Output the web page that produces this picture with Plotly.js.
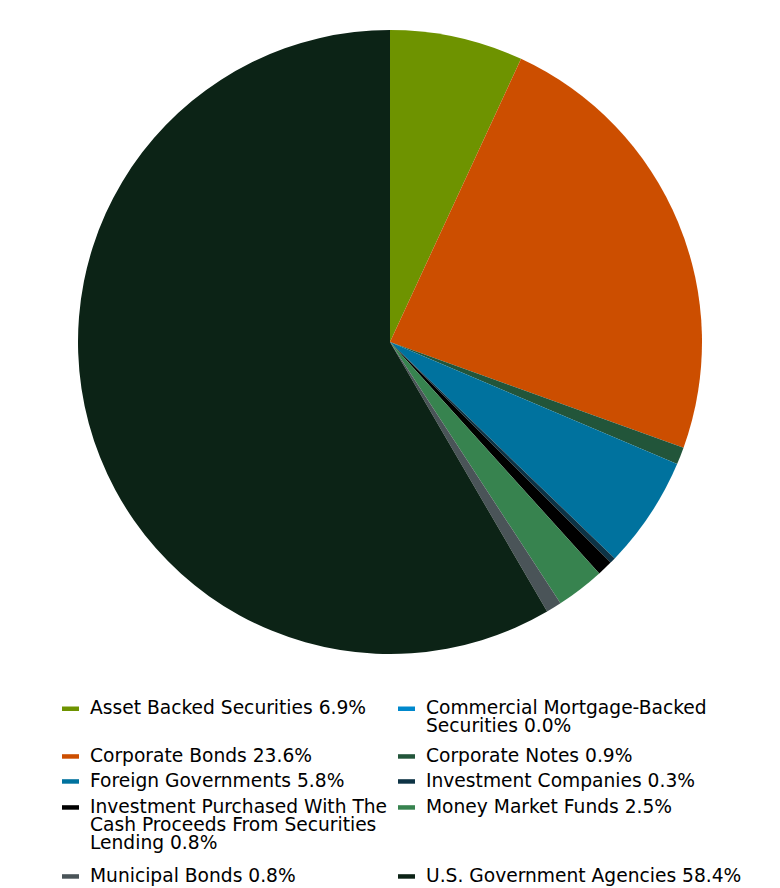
<!DOCTYPE html>
<html>
<head>
<meta charset="utf-8">
<script src="https://cdn.plot.ly/plotly-3.0.1.min.js"></script>
<style>html,body{margin:0;padding:0;background:#fff;}#chart{width:780px;height:888px;}</style>
</head>
<body>
<div id="chart"></div>
<script>
// ---- data ----
const categories = [
  "Asset Backed Securities",
  "Commercial Mortgage-Backed<br>Securities",
  "Corporate Bonds",
  "Corporate Notes",
  "Foreign Governments",
  "Investment Companies",
  "Investment Purchased With The<br>Cash Proceeds From Securities<br>Lending",
  "Money Market Funds",
  "Municipal Bonds",
  "U.S. Government Agencies"
];
const values = [6.9, 0.0, 23.6, 0.9, 5.8, 0.3, 0.8, 2.5, 0.8, 58.4];
const colors = ["#6e9300", "#0088cc", "#cc4e00", "#22553a", "#00729e", "#0d3345", "#000000", "#37834f", "#4a5458", "#0c2316"];

// ---- layout constants ----
const W = 780, H = 888, MT = 30, MB = 234;
const plotH = H - MT - MB;
const colMarkerX = [62, 398];
const colTextX = [89, 425];
const rowBaselines = [714, 761.7, 786.7, 812.7, 881.7];
const lineStep = 18;
const fontSize = 18.67;

const px2x = p => p / W;
const px2y = p => (H - MB - p) / plotH;

const annotations = [];
const shapes = [];
categories.forEach((cat, i) => {
  const col = i % 2, row = Math.floor(i / 2);
  const lines = (cat + " " + values[i].toFixed(1) + "%").split("<br>");
  const base = rowBaselines[row];
  lines.forEach((ln, k) => {
    annotations.push({
      xref: "paper", yref: "paper",
      x: px2x(colTextX[col]), y: px2y(base + k * lineStep - 6.5),
      xanchor: "left", yanchor: "middle",
      text: ln, showarrow: false, borderpad: 0,
      font: {family: "DejaVu Sans", size: fontSize, color: "#000"}
    });
  });
  const my = base - 5.5;
  shapes.push({
    type: "rect", xref: "paper", yref: "paper",
    x0: px2x(colMarkerX[col]), x1: px2x(colMarkerX[col] + 17),
    y0: px2y(my - 2), y1: px2y(my + 2.5),
    fillcolor: colors[i], line: {width: 0}
  });
});

const trace = {
  type: "pie",
  labels: categories.map(c => c.replace(/<br>/g, " ")),
  values: values,
  marker: {colors: colors, line: {width: 0}},
  sort: false,
  direction: "clockwise",
  rotation: 0,
  textinfo: "none",
  hoverinfo: "label+percent",
  showlegend: false
};

const layout = {
  width: W, height: H,
  margin: {l: 0, r: 0, t: MT, b: MB, pad: 0},
  paper_bgcolor: "#fff", plot_bgcolor: "#fff",
  showlegend: false,
  annotations: annotations,
  shapes: shapes,
  font: {family: "DejaVu Sans"}
};

Plotly.newPlot("chart", [trace], layout, {displayModeBar: false, staticPlot: true});
</script>
</body>
</html>
